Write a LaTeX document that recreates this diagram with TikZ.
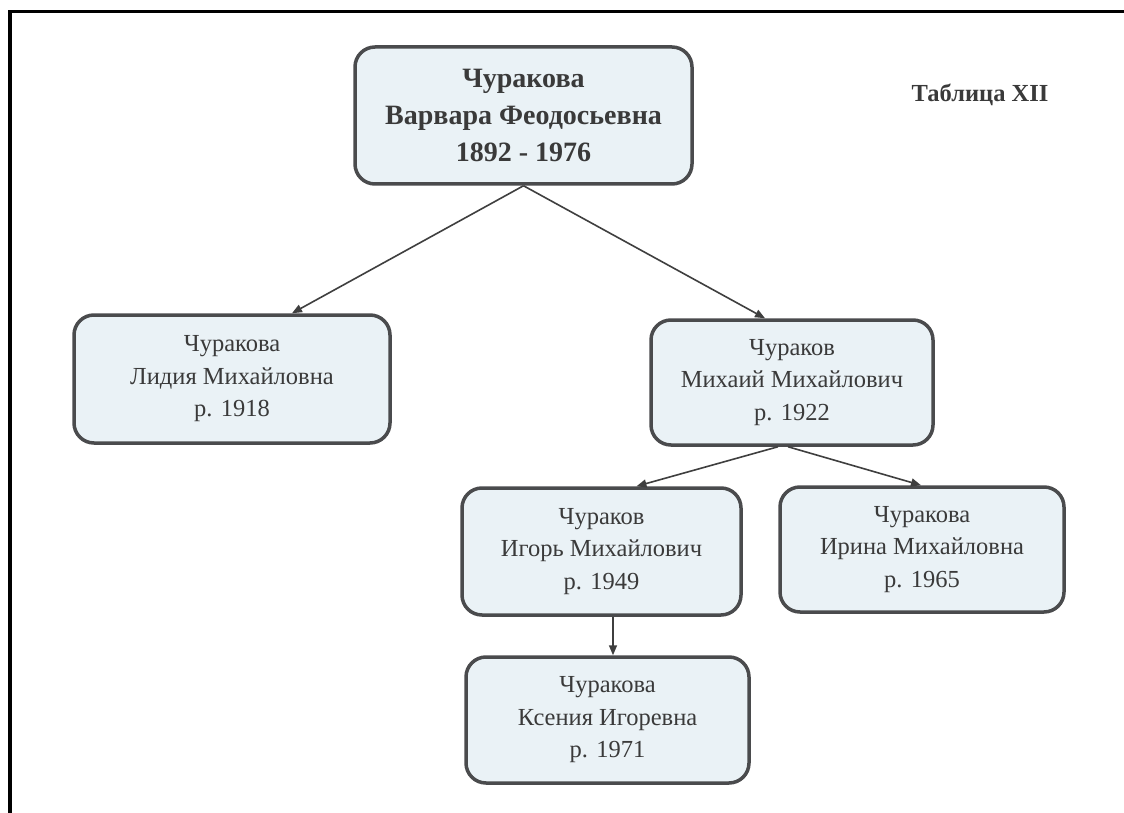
\documentclass[tikz,border=0pt]{standalone}
\usepackage{fontspec}
\setmainfont{Liberation Serif}
\usetikzlibrary{arrows.meta}
\definecolor{boxfill}{HTML}{EAF2F6}
\definecolor{boxline}{HTML}{4A4B4D}
\definecolor{txt}{HTML}{3A3A3A}
\definecolor{conn}{HTML}{3F3F3F}
\tikzset{
  person/.style={draw=boxline, line width=3.5pt, fill=boxfill, rounded corners=20pt,
    text=txt, align=center, inner sep=0pt, font=\fontsize{24.5}{32.5}\selectfont},
  rootbox/.style={person, font=\bfseries\fontsize{28}{37}\selectfont},
  link/.style={draw=conn, line width=1.6pt, -{Triangle[length=10pt,width=8pt]}},
  frameline/.style={draw=black, line width=3.5pt}
}
\begin{document}
\begin{tikzpicture}[x=1pt,y=-1pt]
\useasboundingbox (0,0) rectangle (1124,813);
\fill[white] (0,0) rectangle (1124,813);
% frame
\coordinate (ftl) at (10,11.5);
\coordinate (ftr) at (1124,11.5);
\coordinate (fbl) at (10,813);
\draw[frameline] (ftr) -- (ftl) -- (fbl);
% title
\node[text=txt, font=\bfseries\fontsize{24.5}{28}\selectfont] (tab) at (980,95) {Таблица XII};
% nodes
\node[rootbox, minimum width=337pt, minimum height=137pt] (root) at (523.5,115.5)
  {Чуракова\\Варвара Феодосьевна\\1892 - 1976};
\node[person, minimum width=316pt, minimum height=128pt] (lid) at (232,379)
  {Чуракова\\Лидия Михайловна\\р. 1918};
\node[person, minimum width=282pt, minimum height=125pt] (mih) at (792,382.5)
  {Чураков\\Михаий Михайлович\\р. 1922};
\node[person, minimum width=279pt, minimum height=127pt] (igo) at (601.5,551.5)
  {Чураков\\Игорь Михайлович\\р. 1949};
\node[person, minimum width=284pt, minimum height=125pt] (iri) at (922,549.5)
  {Чуракова\\Ирина Михайловна\\р. 1965};
\node[person, minimum width=283pt, minimum height=126pt] (kse) at (607.5,720)
  {Чуракова\\Ксения Игоревна\\р. 1971};
% connectors
\draw[link] (root.south) -- ([xshift=60pt]lid.north);
\draw[link] (root.south) -- ([xshift=-27pt]mih.north);
\draw[link] ([xshift=-14pt]mih.south) -- ([xshift=35pt]igo.north);
\draw[link] ([xshift=-4pt]mih.south) -- ([xshift=-1pt]iri.north);
\draw[link] ([xshift=11.5pt]igo.south) -- ([xshift=5.5pt]kse.north);
\end{tikzpicture}
\end{document}
